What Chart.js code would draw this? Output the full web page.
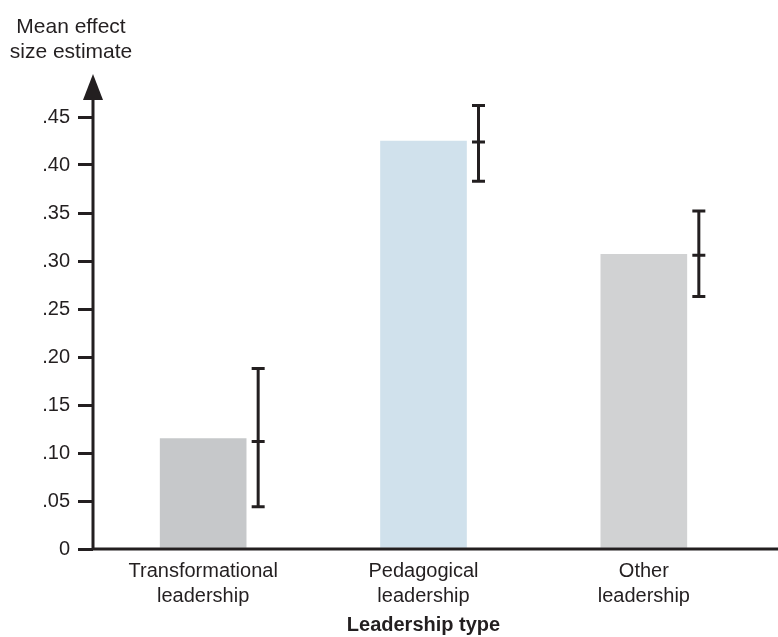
<!DOCTYPE html>
<html>
<head>
<meta charset="utf-8">
<script src="https://cdn.jsdelivr.net/npm/chart.js@4.4.1/dist/chart.umd.min.js"></script>
<style>
  html, body { margin: 0; padding: 0; background: #fff; }
  #wrap { width: 778px; height: 637px; }
</style>
</head>
<body>
<div id="wrap"><canvas id="chart"></canvas></div>
<script>
const categories = [["Transformational", "leadership"], ["Pedagogical", "leadership"], ["Other", "leadership"]];
const meanEffect = [0.115, 0.425, 0.307];
const ciLow = [0.044, 0.383, 0.263];
const ciMid = [0.112, 0.424, 0.306];
const ciHigh = [0.188, 0.462, 0.352];
const barColors = ["#c6c8ca", "#d0e1ec", "#d1d2d3"];

const ink = "#231f20";
const font = "'Liberation Sans', Arial, sans-serif";

// error bars sit just right of each bar
const errorBars = {
  id: "errorBars",
  afterDatasetsDraw(chart) {
    const { ctx, scales: { y } } = chart;
    const bars = chart.getDatasetMeta(0).data;
    ctx.save();
    ctx.strokeStyle = ink;
    ctx.lineWidth = 3;
    bars.forEach((bar, i) => {
      const x = bar.x + bar.width / 2 + 12;
      const top = y.getPixelForValue(ciHigh[i]);
      const bot = y.getPixelForValue(ciLow[i]);
      const mid = y.getPixelForValue(ciMid[i]);
      ctx.beginPath();
      ctx.moveTo(x, top);
      ctx.lineTo(x, bot);
      [top, mid, bot].forEach((py) => {
        ctx.moveTo(x - 6.5, py);
        ctx.lineTo(x + 6.5, py);
      });
      ctx.stroke();
    });
    ctx.restore();
  }
};

// axis lines, arrow head and the stacked y title
const axes = {
  id: "axes",
  afterDraw(chart) {
    const { ctx, chartArea, scales: { y } } = chart;
    const x0 = chartArea.left;
    const y0 = y.getPixelForValue(0);
    const arrowBase = chartArea.top - 18;
    ctx.save();
    ctx.strokeStyle = ink;
    ctx.fillStyle = ink;
    ctx.lineWidth = 3;
    ctx.beginPath();
    ctx.moveTo(x0, y0);
    ctx.lineTo(chart.width, y0);
    ctx.moveTo(x0, y0 + 1.5);
    ctx.lineTo(x0, arrowBase);
    ctx.stroke();
    ctx.beginPath();
    ctx.moveTo(x0 - 10, arrowBase + 1);
    ctx.lineTo(x0 + 10, arrowBase + 1);
    ctx.lineTo(x0, arrowBase - 25);
    ctx.closePath();
    ctx.fill();

    ctx.font = "21px " + font;
    ctx.textAlign = "center";
    ctx.textBaseline = "alphabetic";
    ctx.fillText("Mean effect", 71, 33);
    ctx.fillText("size estimate", 71, 58);
    ctx.restore();
  }
};

new Chart(document.getElementById("chart"), {
  type: "bar",
  data: {
    labels: categories,
    datasets: [
      {
        label: "Mean effect size estimate",
        data: meanEffect,
        backgroundColor: barColors,
        barThickness: 86
      }
    ]
  },
  options: {
    responsive: true,
    maintainAspectRatio: false,
    animation: false,
    layout: { padding: { top: 117, right: 24, left: 0, bottom: 0 } },
    plugins: {
      legend: { display: false },
      tooltip: { enabled: false }
    },
    scales: {
      x: {
        grid: { display: false },
        border: { display: false },
        ticks: { color: ink, font: { family: font, size: 20, lineHeight: 1.25 }, padding: 2, maxRotation: 0 },
        title: {
          display: true,
          text: "Leadership type",
          color: ink,
          font: { family: font, size: 20, weight: "bold" },
          padding: { top: 0, bottom: 0 }
        },
        afterFit(scale) { scale.height = 88; }
      },
      y: {
        min: 0,
        max: 0.45,
        border: { display: false },
        grid: { drawOnChartArea: false, drawTicks: true, tickLength: 15, color: ink, lineWidth: 3 },
        ticks: {
          stepSize: 0.05,
          color: ink,
          padding: 8,
          font: { family: font, size: 20 },
          callback: (v) => (v === 0 ? "0" : v.toFixed(2).replace(/^0/, ""))
        },
        afterFit(scale) { scale.width = 93; }
      }
    }
  },
  plugins: [errorBars, axes]
});
</script>
</body>
</html>
